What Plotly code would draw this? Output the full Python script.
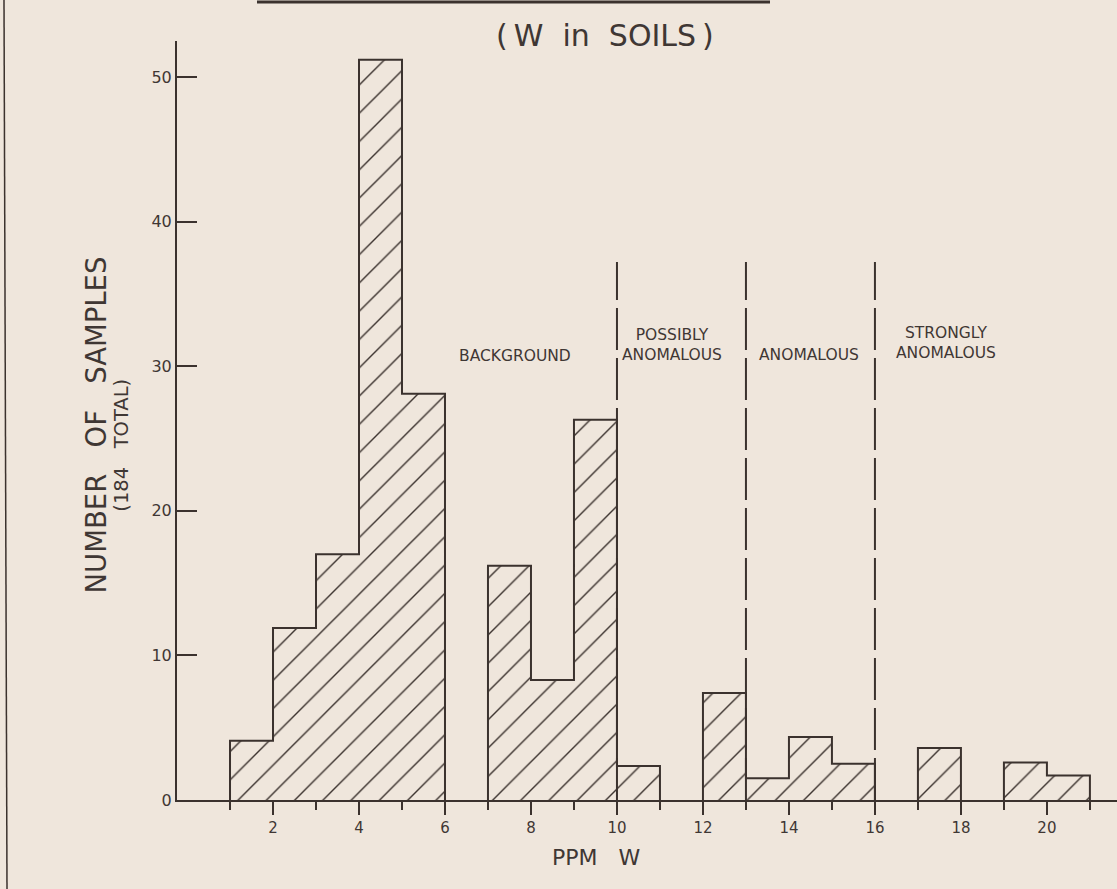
import plotly.graph_objects as go

# ---- data ----
bin_left = [1, 2, 3, 4, 5, 6, 7, 8, 9, 10, 11, 12, 13, 14, 15, 16, 17, 18, 19, 20]
counts = [4.1, 11.9, 17.0, 51.2, 28.1, 0, 16.2, 8.3, 26.3, 2.35, 0, 7.4, 1.5, 4.35, 2.5, 0, 3.6, 0, 2.6, 1.7]
bin_width = 1
x_tick_vals = [2, 4, 6, 8, 10, 12, 14, 16, 18, 20]
x_minor_vals = [1, 3, 5, 7, 9, 11, 13, 15, 17, 19, 21]
y_tick_vals = [0, 10, 20, 30, 40, 50]
boundaries = [10, 13, 16]
boundary_top = 37.2
zone_labels = ["BACKGROUND", "POSSIBLY<br>ANOMALOUS", "ANOMALOUS", "STRONGLY<br>ANOMALOUS"]
zone_x = [7.62, 11.27, 14.47, 17.65]
zone_y = [30.7, 31.5, 30.8, 31.6]

BG = "#EFE6DC"
INK = "#3b322e"
TXT = "#3f3734"
FONT = "DejaVu Sans"

xs = [l + bin_width / 2 for l, c in zip(bin_left, counts) if c > 0]
ys = [c for c in counts if c > 0]

# step outline of the histogram (groups of adjacent non-empty bins)
ox, oy = [], []
prev = 0
for l, c in zip(bin_left, counts):
    if c > 0:
        if prev == 0:
            ox += [l]; oy += [0]
        ox += [l, l + bin_width]; oy += [c, c]
    else:
        if prev > 0:
            ox += [l, None]; oy += [0, None]
    prev = c
if prev > 0:
    ox += [bin_left[-1] + bin_width]; oy += [0]

fig = go.Figure()
fig.add_trace(go.Bar(
    x=xs, y=ys, width=bin_width,
    marker=dict(color=BG,
                line=dict(color=INK, width=0),
                pattern=dict(shape="/", size=20, solidity=0.07, fgcolor=INK, bgcolor=BG,
                             fgopacity=1)),
    hoverinfo="skip", showlegend=False,
))
fig.add_trace(go.Scatter(x=ox, y=oy, mode="lines", line=dict(color=INK, width=2),
                         hoverinfo="skip", showlegend=False, cliponaxis=False))

shapes = []
for b in boundaries:
    shapes.append(dict(type="line", xref="x", yref="y", x0=b, x1=b, y0=0, y1=boundary_top,
                       line=dict(color=INK, width=2, dash="42px,8px"), layer="above"))
# top rule (part of cut-off title) and left page border
shapes.append(dict(type="line", xref="paper", yref="paper", x0=(257 - 177) / 940, x1=(770 - 177) / 940,
                   y0=1 + 39 / 759, y1=1 + 39 / 759, line=dict(color=INK, width=3)))
shapes.append(dict(type="line", xref="paper", yref="paper", x0=(4 - 177) / 940, x1=(7 - 177) / 940,
                   y0=1 + 41 / 759, y1=-89 / 759, line=dict(color=INK, width=1.5)))

annotations = []
for t, x, y in zip(zone_labels, zone_x, zone_y):
    annotations.append(dict(text=t, x=x, y=y, xref="x", yref="y", showarrow=False,
                            xanchor="center", yanchor="middle",
                            font=dict(family=FONT, size=15.5, color=TXT), align="center"))
annotations.append(dict(text="(\u2009W\u00a0\u00a0in\u00a0\u00a0SOILS\u2009)", x=(605 - 177) / 940, y=1 - (35 - 41) / 759,
                        xref="paper", yref="paper", showarrow=False, xanchor="center", yanchor="middle",
                        font=dict(family=FONT, size=30, color=TXT)))
annotations.append(dict(text="NUMBER\u00a0\u00a0\u00a0OF\u00a0\u00a0\u00a0SAMPLES", x=0, xshift=-81, y=25.9,
                        xref="paper", yref="y", textangle=-90, showarrow=False,
                        xanchor="center", yanchor="middle",
                        font=dict(family=FONT, size=27.5, color=TXT)))
annotations.append(dict(text="(184\u00a0\u00a0\u00a0TOTAL)", x=0, xshift=-55, y=24.5,
                        xref="paper", yref="y", textangle=-90, showarrow=False,
                        xanchor="center", yanchor="middle",
                        font=dict(family=FONT, size=19.5, color=TXT)))
annotations.append(dict(text="PPM\u00a0\u00a0\u00a0W", x=9.52, y=0, yshift=-57,
                        xref="x", yref="paper", showarrow=False, xanchor="center", yanchor="middle",
                        font=dict(family=FONT, size=22, color=TXT)))

fig.update_layout(
    width=1117, height=889,
    margin=dict(l=177, r=0, t=41, b=89, pad=0),
    paper_bgcolor=BG, plot_bgcolor=BG,
    bargap=0,
    shapes=shapes, annotations=annotations,
    xaxis=dict(range=[-0.233, 21.63], showgrid=False, zeroline=False,
               showline=True, linecolor=INK, linewidth=2,
               tickmode="array", tickvals=x_tick_vals, ticktext=[str(v) for v in x_tick_vals],
               ticks="outside", ticklen=13, tickwidth=1.5, tickcolor=INK,
               tickfont=dict(family=FONT, size=15, color=TXT),
               minor=dict(tickmode="array", tickvals=x_minor_vals, ticks="outside", ticklen=8,
                          tickwidth=1.5, tickcolor=INK, showgrid=False)),
    yaxis=dict(range=[0, 52.49], showgrid=False, zeroline=False,
               showline=True, linecolor=INK, linewidth=2,
               tickmode="array", tickvals=y_tick_vals,
               ticks="inside", ticklen=20, tickwidth=1.5, tickcolor=INK,
               tickfont=dict(family=FONT, size=16, color=TXT)),
)

fig.write_html("out.html", config={"displayModeBar": False},
               post_script="document.body.style.margin='0px';document.body.style.background='%s';" % BG)
